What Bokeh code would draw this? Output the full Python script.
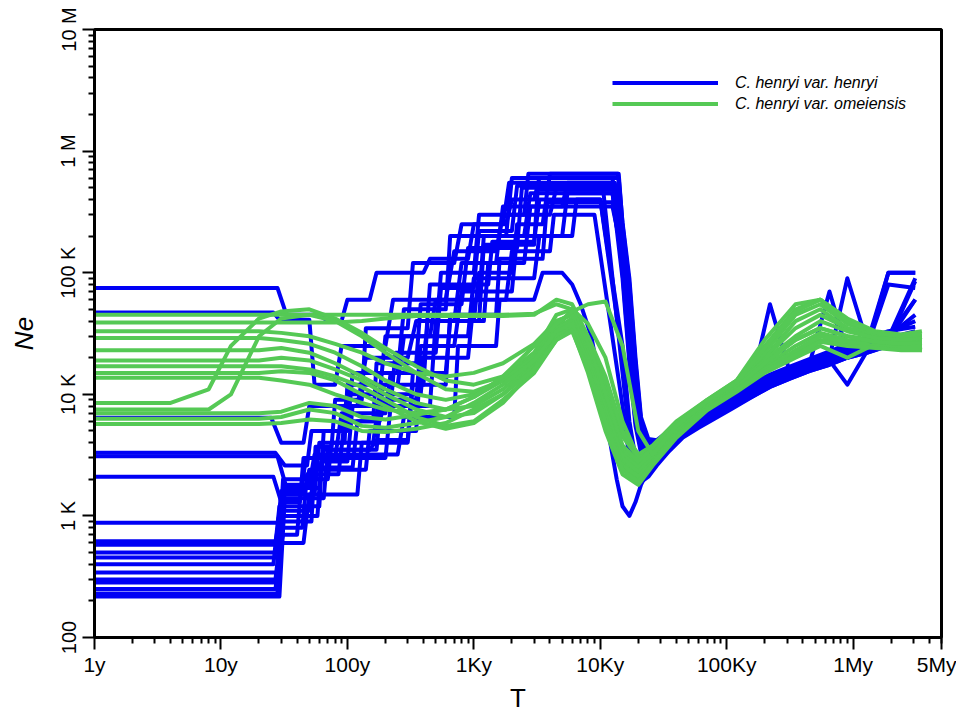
from bokeh.plotting import figure
from bokeh.models import FixedTicker, Legend, LegendItem
from bokeh.embed import file_html
from bokeh.resources import INLINE

BLUE = "#0000F5"
GREEN = "#55C955"

# ---------------- blue series (C. henryi var. henryi) ----------------
# left (stairway) part: times in years, Ne in thousands
blue_left_t = [
    [1, 28, 33, 60, 70, 90, 100, 150, 170, 400, 450, 900, 1000, 1800, 2000, 3000, 3300, 12500],
    [1, 26, 29, 50, 55, 80, 90, 200, 230, 600, 700, 1500, 1700, 4000, 4500, 10500],
    [1, 25, 30, 45, 50, 120, 140, 300, 350, 700, 800, 1500, 1700, 5000, 5500, 13000],
    [1, 27, 32, 48, 52, 90, 100, 180, 200, 450, 500, 1100, 1200, 2500, 2800, 12500],
    [1, 28, 33, 60, 65, 150, 170, 300, 330, 600, 650, 1000, 1100, 2000, 2200, 3500, 4000, 14000],
    [1, 26, 30, 42, 47, 80, 90, 200, 220, 400, 450, 1300, 1400, 3000, 3300, 10000],
    [1, 28, 32, 55, 60, 95, 100, 250, 280, 500, 550, 1000, 1100, 2500, 2700, 13800],
    [1, 27, 30, 50, 55, 110, 120, 180, 200, 350, 380, 700, 800, 2000, 2200, 5000, 5500, 12500],
    [1, 28, 31, 52, 56, 75, 80, 130, 140, 300, 330, 700, 800, 1700, 1900, 13000],
    [1, 27, 30, 46, 50, 140, 150, 350, 380, 900, 1000, 1800, 2000, 4000, 4300, 9000],
    [1, 28, 31, 40, 45, 200, 220, 450, 500, 1200, 1300, 2500, 2800, 12500],
    [1, 26, 29, 60, 65, 100, 110, 250, 280, 600, 650, 1800, 2000, 14000],
    [1, 28, 31, 70, 75, 160, 180, 380, 420, 900, 1000, 3000, 3300, 6000, 6500, 10000],
    [1, 27, 30, 44, 48, 85, 95, 160, 170, 350, 380, 800, 900, 2200, 2400, 13000],
    [1, 28, 32, 50, 55, 250, 280, 700, 750, 1500, 1600, 3000, 3500, 5000, 6000, 7000, 8500, 10000, 12000, 13500],
    [1, 27, 30, 45, 50, 120, 130, 300, 330, 600, 650, 1500, 1600, 3500, 3800, 12500],
    [1, 28, 31, 58, 62, 100, 110, 220, 240, 500, 550, 1000, 1100, 2000, 2200, 13800],
    [1, 29, 32, 65, 70, 170, 190, 400, 430, 1100, 1200, 3000, 3200, 13000],
]
blue_left_ne_k = [
    [75, 75, 45, 45, 40, 40, 60, 60, 100, 100, 130, 130, 250, 250, 400, 400, 600, 600],
    [47, 47, 41, 41, 12, 12, 25, 25, 60, 60, 150, 150, 300, 300, 500, 500],
    [6.4, 6.4, 4, 4, 8, 8, 20, 20, 40, 40, 120, 120, 350, 350, 550, 550],
    [3.3, 3.3, 2.6, 2.6, 5, 5, 10, 10, 30, 30, 60, 60, 200, 200, 450, 450],
    [3.1, 3.1, 1.7, 1.7, 3.5, 3.5, 4.2, 4.2, 15, 15, 40, 40, 100, 100, 250, 250, 650, 650],
    [2.1, 2.1, 1.3, 1.3, 3, 3, 7, 7, 15, 15, 80, 80, 180, 180, 400, 400],
    [0.88, 0.88, 1.5, 1.5, 4, 4, 12, 12, 30, 30, 100, 100, 300, 300, 650, 650],
    [0.62, 0.62, 1.1, 1.1, 2.5, 2.5, 6, 6, 9, 9, 25, 25, 70, 70, 200, 200, 450, 450],
    [0.58, 0.58, 0.9, 0.9, 3.7, 3.7, 9, 9, 35, 35, 120, 120, 250, 250, 550, 550],
    [0.5, 0.5, 1.6, 1.6, 2.4, 2.4, 5, 5, 20, 20, 60, 60, 150, 150, 300, 300],
    [0.455, 0.455, 0.7, 0.7, 3, 3, 8, 8, 40, 40, 120, 120, 350, 350],
    [0.4, 0.4, 1.2, 1.2, 5, 5, 15, 15, 50, 50, 200, 200, 600, 600],
    [0.343, 0.343, 2, 2, 4, 4, 10, 10, 30, 30, 90, 90, 200, 200, 400, 400],
    [0.3, 0.3, 0.8, 0.8, 2.2, 2.2, 6, 6, 18, 18, 55, 55, 160, 160, 500, 500],
    [0.284, 0.284, 1.8, 1.8, 3.2, 3.2, 6.5, 6.5, 25, 25, 60, 60, 100, 100, 80, 55, 30, 12, 4, 2],
    [0.25, 0.25, 0.6, 0.6, 1.5, 1.5, 4, 4, 12, 12, 45, 45, 130, 130, 380, 380],
    [0.23, 0.23, 1, 1, 2.8, 2.8, 8, 8, 22, 22, 75, 75, 220, 220, 520, 520],
    [0.217, 0.217, 1.4, 1.4, 3.5, 3.5, 12, 12, 40, 40, 170, 170, 480, 480],
]
# right part: shared times, Ne in thousands
blue_right_t = [15000, 17000, 19000, 21000, 24000, 28000, 35000, 45000, 60000, 80000,
                110000, 150000, 220000, 320000, 450000, 650000, 900000, 1300000, 1900000, 3100000]
blue_right_ne_k = [
    [100, 20, 6, 3.5, 2.9, 3.2, 4.2, 5.2, 6.3, 7.5, 9, 11, 14, 16, 18, 21, 24, 26, 30, 60],
    [15, 4.5, 2.6, 2.5, 2.6, 3, 3.7, 4.6, 5.5, 6.5, 8, 9.5, 12, 14, 16, 18, 20, 23, 26, 28],
    [200, 60, 14, 5, 3.4, 3.6, 4.4, 5.4, 6.6, 7.8, 9.2, 11, 13, 15.5, 17.5, 70, 22, 25, 100, 100],
    [90, 18, 5.5, 3.3, 2.8, 3.3, 4.1, 5, 6.1, 7.2, 8.6, 10, 12.5, 14.5, 16.5, 19, 21, 24, 27, 32],
    [250, 80, 18, 6, 4, 4, 4.8, 5.8, 7, 8.2, 9.8, 11.5, 14, 16.5, 19, 22, 25, 28, 32, 40],
    [20, 5, 2.8, 2.6, 2.7, 3, 3.8, 4.8, 5.8, 6.8, 8.2, 9.8, 55, 14.5, 16.5, 19, 21, 24, 27, 30],
    [220, 70, 16, 5.5, 3.7, 3.8, 4.6, 5.6, 6.8, 8, 9.5, 11, 13.5, 16, 18, 20, 90, 26, 29, 90],
    [120, 30, 8, 3.6, 2.7, 3, 3.9, 4.9, 6, 7, 8.4, 10, 12.5, 14.5, 16.5, 19, 12, 23, 26, 29],
    [180, 50, 12, 4.6, 3.2, 3.4, 4.3, 5.3, 6.4, 7.6, 9, 10.5, 13, 15, 17, 20, 23, 26, 29, 33],
    [8, 3, 2, 1.9, 2.1, 2.6, 3.4, 4.4, 5.3, 6.3, 7.6, 9.2, 11.5, 13.5, 15.5, 17.5, 20, 22, 25, 27],
    [140, 40, 10, 4, 2.9, 3.1, 4, 5, 6.2, 7.3, 8.8, 10.5, 12.8, 15, 17, 19.5, 22, 25, 80, 75],
    [260, 90, 20, 6.5, 4.3, 4.2, 5, 6, 7.2, 8.5, 10, 12, 14.5, 17, 19.5, 22.5, 26, 29, 33, 36],
    [25, 6, 3, 2.7, 2.8, 3, 3.7, 4.7, 5.7, 6.7, 8, 9.6, 12, 14, 16, 18.5, 21, 24, 27, 30],
    [170, 48, 12, 4.5, 3.1, 3.3, 4.2, 5.2, 6.3, 7.4, 8.9, 10.6, 13, 15.2, 17.3, 20, 22.5, 25, 28, 60],
    [1.2, 1, 1.3, 1.8, 2.4, 3, 3.8, 4.6, 5.5, 6.5, 7.8, 9.3, 11.5, 13.5, 15.5, 17.5, 20, 22, 25, 27],
    [130, 32, 8.5, 3.7, 2.75, 3.05, 3.95, 4.95, 6, 7.1, 8.5, 10.2, 12.6, 14.8, 16.8, 19.5, 22, 24.5, 27.5, 85],
    [230, 75, 17, 5.8, 3.9, 3.9, 4.7, 5.7, 6.9, 8.1, 9.6, 11.3, 13.8, 16.2, 18.5, 21, 24, 27, 100, 100],
    [190, 55, 13, 4.8, 3.3, 3.5, 4.4, 5.4, 6.5, 7.7, 9.1, 10.8, 13.2, 15.5, 17.6, 20.5, 23, 26, 30, 45],
]

# ---------------- green series (C. henryi var. omeiensis) ----------------
green_t = [1, 4, 8, 12, 20, 30, 50, 80, 130, 200, 350, 600, 1000, 1700, 3000, 4500,
           6000, 8000, 11000, 15000, 20000, 26000, 40000, 70000, 120000, 200000,
           350000, 550000, 900000, 1500000, 2400000, 3500000]
green_ne_k = [
    [45, 45, 45, 45, 45, 45, 45, 45, 45, 45, 45, 45, 45, 45, 46, 55, 50, 28, 12, 4.5, 3, 3.5, 5.5, 8.5, 12, 20, 35, 45, 35, 30, 28, 27],
    [39, 39, 39, 39, 39, 39, 39, 39, 40, 42, 44, 44, 44, 44, 45, 60, 55, 30, 14, 5, 3.2, 3.8, 6, 9, 13, 25, 50, 60, 40, 32, 30, 28],
    [33, 33, 33, 33, 33, 32, 30, 26, 22, 18, 15, 14, 15, 18, 26, 40, 45, 25, 9, 3.5, 2.6, 3.3, 5.5, 8.5, 12.5, 18, 28, 35, 30, 28, 27, 26],
    [29, 29, 29, 29, 29, 28, 26, 22, 17, 13, 10, 9, 10, 13, 20, 35, 42, 22, 8, 3, 2.4, 3.1, 5, 8, 12, 20, 40, 50, 35, 30, 29, 30],
    [23, 23, 23, 23, 23, 24, 22, 18, 14, 11, 8.5, 7.5, 8, 11, 18, 32, 38, 20, 7, 2.8, 2.2, 2.9, 4.8, 7.8, 11.5, 17, 25, 32, 28, 27, 26, 25],
    [19, 19, 19, 19, 19, 20, 19, 16, 13, 10, 7.5, 6.5, 7, 10, 17, 30, 36, 17, 6, 2.5, 2, 2.8, 4.6, 7.6, 11, 16, 22, 28, 26, 25, 24, 24],
    [17, 17, 17, 17, 17, 17, 16, 14, 11.5, 9, 6.5, 5.5, 6, 9, 15, 28, 34, 15, 5, 2.2, 1.8, 2.6, 4.4, 7.4, 10.5, 15, 20, 25, 20, 26, 25, 23],
    [15, 15, 15, 15, 15, 15.5, 15, 13, 10, 8, 6, 5.2, 5.8, 8.5, 16, 35, 50, 38, 20, 6, 3, 3.4, 5.2, 8.2, 12, 22, 45, 55, 38, 31, 30, 30],
    [8.5, 8.5, 11, 25, 42, 48, 50, 42, 32, 24, 17, 13, 12, 14, 22, 45, 50, 26, 10, 3.8, 2.8, 3.6, 5.8, 9, 13, 28, 55, 60, 42, 33, 31, 33],
    [7.5, 7.5, 7.5, 10, 30, 42, 45, 40, 30, 22, 15, 11, 10.5, 13, 21, 40, 45, 22, 8, 3.2, 2.5, 3.3, 5.3, 8.3, 12, 19, 30, 40, 33, 29, 28, 29],
    [7, 7, 7, 7, 7, 7.2, 8.5, 8, 6.5, 6.2, 6.8, 7.5, 9.5, 13, 20, 35, 40, 20, 7.5, 3, 2.3, 3, 5, 8, 11.5, 18, 28, 35, 30, 27, 26, 26],
    [6.3, 6.3, 6.3, 6.3, 6.3, 6.5, 7.5, 7, 5.5, 5.3, 5.8, 6.5, 8.5, 12, 19, 33, 38, 18, 6.5, 2.6, 2.1, 2.8, 4.7, 7.7, 11, 16, 23, 30, 27, 25, 24, 25],
    [5.7, 5.7, 5.7, 5.7, 5.7, 5.8, 6.2, 6, 5, 4.9, 5.2, 5.8, 7.5, 10, 16, 28, 33, 16, 6, 2.4, 1.9, 2.7, 4.5, 7.5, 10.8, 15.5, 21, 27, 25, 24, 23, 23],
    [13.7, 13.7, 13.7, 13.7, 13.7, 13, 12, 10, 8.5, 7.5, 7, 7.5, 9.5, 14, 25, 38, 48, 55, 58, 25, 5, 3.2, 5.5, 8.8, 12.5, 24, 48, 60, 40, 32, 30, 31],
]

legend_labels = ["C. henryi var. henryi", "C. henryi var. omeiensis"]

x_ticks = [1, 10, 100, 1000, 10000, 100000, 1000000, 5000000]
x_tick_labels = ["1y", "10y", "100y", "1Ky", "10Ky", "100Ky", "1My", "5My"]
y_ticks = [100, 1000, 10000, 100000, 1000000, 10000000]
y_tick_labels = ["100", "1 K", "10 K", "100 K", "1 M", "10 M"]

FONT = "Liberation Sans"

p = figure(width=956, height=715, x_axis_type="log", y_axis_type="log",
           x_range=(1, 5000000), y_range=(100, 10000000),
           output_backend="svg", toolbar_location=None,
           min_border_left=94, min_border_top=29, min_border_right=15, min_border_bottom=78)
p.background_fill_color = "white"
p.border_fill_color = "white"
p.grid.visible = False
p.outline_line_color = "black"
p.outline_line_width = 3
p.outline_line_alpha = 1

blue_renderers = []
for lt, ln, rn in zip(blue_left_t, blue_left_ne_k, blue_right_ne_k):
    xs = list(lt) + list(blue_right_t)
    ys = [v * 1000 for v in list(ln) + list(rn)]
    r = p.line(xs, ys, line_color=BLUE, line_width=4, line_join="round")
    blue_renderers.append(r)

green_renderers = []
for gn in green_ne_k:
    ys = [v * 1000 for v in gn]
    r = p.line(green_t, ys, line_color=GREEN, line_width=4, line_join="round")
    green_renderers.append(r)

# minor ticks at 2..9 of each decade
x_minor = [m * 10 ** d for d in range(0, 7) for m in range(2, 10) if m * 10 ** d <= 5000000]
y_minor = [m * 10 ** d for d in range(2, 7) for m in range(2, 10)]

p.xaxis.ticker = FixedTicker(ticks=x_ticks, minor_ticks=x_minor)
p.xaxis.major_label_overrides = {t: l for t, l in zip(x_ticks, x_tick_labels)}
p.yaxis.ticker = FixedTicker(ticks=y_ticks, minor_ticks=y_minor)
p.yaxis.major_label_overrides = {t: l for t, l in zip(y_ticks, y_tick_labels)}
p.yaxis.major_label_orientation = "vertical"

for ax in (p.xaxis, p.yaxis):
    ax.axis_line_width = 3
    ax.axis_line_color = "black"
    ax.major_tick_out = 12
    ax.major_tick_in = 0
    ax.minor_tick_out = 6
    ax.minor_tick_in = 0
    ax.major_tick_line_width = 2
    ax.minor_tick_line_width = 2
    ax.major_tick_line_color = "black"
    ax.minor_tick_line_color = "black"
    ax.major_label_text_font = FONT
    ax.major_label_text_color = "black"
    ax.axis_label_text_font = FONT
    ax.axis_label_text_font_size = "26px"
    ax.axis_label_text_color = "black"

p.xaxis.major_label_text_font_size = "21px"
p.yaxis.major_label_text_font_size = "20px"
p.xaxis.axis_label = "T"
p.xaxis.axis_label_text_font_style = "normal"
p.xaxis.major_label_standoff = 3
p.xaxis.axis_label_standoff = 4
p.yaxis.axis_label = "Ne"
p.yaxis.axis_label_text_font_style = "italic"
p.yaxis.major_label_standoff = 3
p.yaxis.axis_label_standoff = 16

legend = Legend(items=[LegendItem(label=legend_labels[0], renderers=[blue_renderers[0]]),
                       LegendItem(label=legend_labels[1], renderers=[green_renderers[0]])],
                location=(518, 524), glyph_width=106, glyph_height=19, spacing=2,
                label_standoff=17, padding=0, margin=0,
                border_line_color=None, background_fill_alpha=0,
                label_text_font=FONT, label_text_font_style="italic",
                label_text_font_size="16px", label_text_color="black", label_height=19)
p.add_layout(legend)

open("out.html", "w").write(file_html(p, INLINE))
